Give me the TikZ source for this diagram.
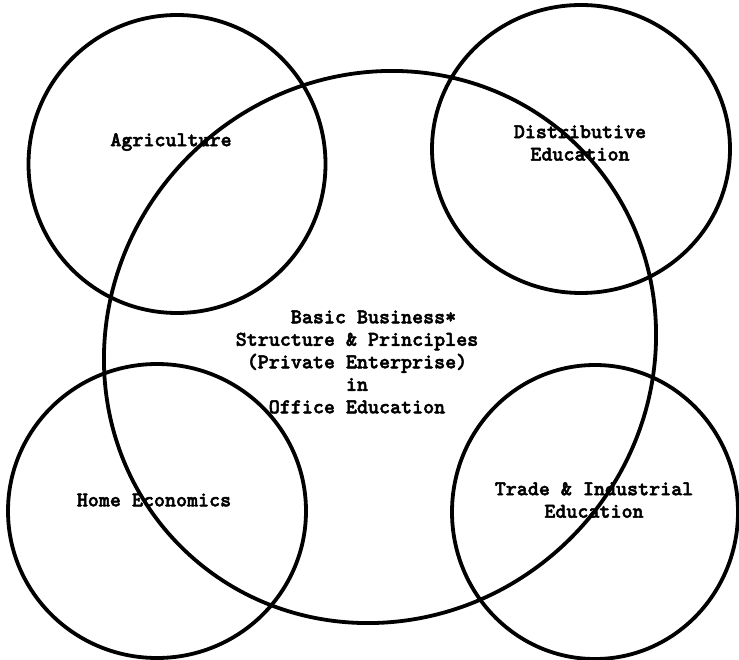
\documentclass[tikz,border=0pt]{standalone}
\usepackage{fontspec}
\newfontfamily\daktilo{lmmonolt10-bold.otf}[FakeBold=2.2]
\usepackage{tikz}
\usetikzlibrary{shapes.geometric}

\begin{document}
\begin{tikzpicture}[x=1pt,y=-1pt,
  every node/.style={font=\daktilo\bfseries\fontsize{21}{22.5}\selectfont,align=center},
  halka/.style={draw,line width=3.8pt,ellipse,inner sep=0pt}]
\useasboundingbox (0,0) rectangle (739,660);
% dort alan
\node[halka,minimum width=297,minimum height=298] (k1) at (177,164) {};
\node[halka,minimum width=298,minimum height=288] (k2) at (581,149) {};
\node[halka,minimum width=298,minimum height=294] (k3) at (157,511) {};
\node[halka,minimum width=286,minimum height=294] (k4) at (595,512) {};
% ortadaki buyuk alan
\node[halka,rotate=45,minimum width=564,minimum height=540] (ana) at (380,347) {};
% yazilar
\node (t1) at (171,142) {Agriculture};
\node (t2) at (580,143) {Distributive\\Education};
\node (t3) at (154,500) {Home Economics};
\node (t4) at (594,500) {Trade \& Industrial\\Education};
\node (t0) at (357,362) {\phantom{xxx}Basic Business*\\Structure \& Principles\\(Private Enterprise)\\in\\Office Education};
\end{tikzpicture}
\end{document}
